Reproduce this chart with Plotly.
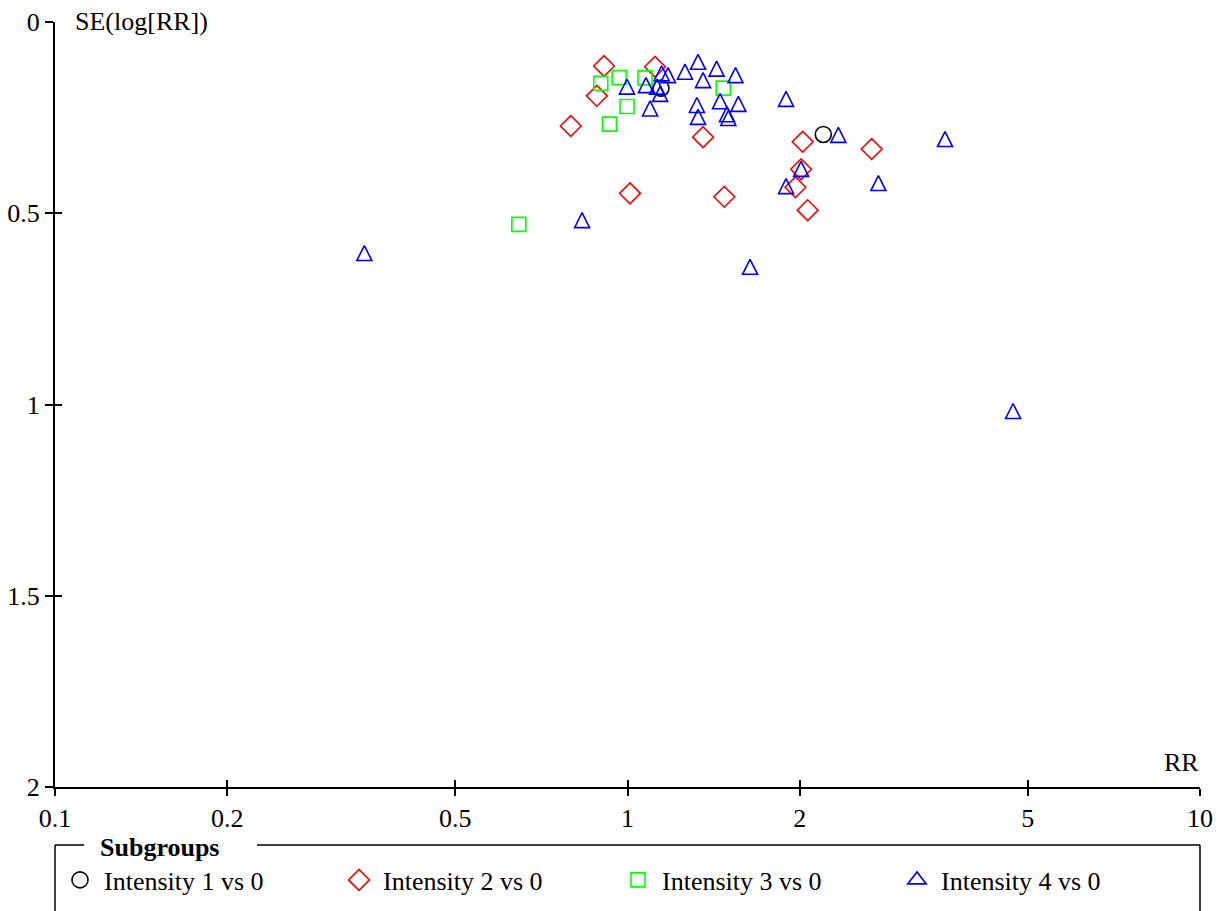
import plotly.graph_objects as go

# Funnel plot of risk ratios by intensity subgroup
x_ticks = [0.1, 0.2, 0.5, 1, 2, 5, 10]
x_tick_text = ["0.1", "0.2", "0.5", "1", "2", "5", "10"]
y_ticks = [0, 0.5, 1, 1.5, 2]
y_tick_text = ["0", "0.5", "1", "1.5", "2"]

i1_rr = [1.144, 2.198]
i1_se = [0.173, 0.294]

i2_rr = [0.910, 1.117, 0.884, 0.796, 1.355, 2.023, 2.670, 2.010, 1.965, 1.010, 1.476, 2.064]
i2_se = [0.115, 0.117, 0.193, 0.272, 0.301, 0.313, 0.332, 0.385, 0.432, 0.448, 0.457, 0.492]

i3_rr = [0.898, 0.967, 1.073, 0.998, 0.930, 1.470, 0.646]
i3_se = [0.160, 0.145, 0.146, 0.221, 0.267, 0.173, 0.529]

i4_rr = [0.347, 0.833, 0.998, 1.077, 1.095, 1.126, 1.140, 1.147, 1.177, 1.260,
         1.328, 1.355, 1.431, 1.544, 1.322, 1.451, 1.562, 1.328, 1.492, 1.500,
         1.892, 2.335, 2.010, 1.892, 2.743, 1.637, 3.586, 4.715]
i4_se = [0.604, 0.518, 0.169, 0.165, 0.226, 0.169, 0.188, 0.134, 0.139, 0.130,
         0.104, 0.152, 0.122, 0.139, 0.217, 0.207, 0.214, 0.248, 0.241, 0.251,
         0.201, 0.295, 0.384, 0.429, 0.421, 0.640, 0.306, 1.017]

FONT = "Liberation Serif"
W, H = 1219, 911
ML, MR, MT, MB = 55, 19, 22, 124
PW, PH = W - ML - MR, H - MT - MB


def px_x(px):
    return (px - ML) / PW


def px_y(py):
    return (H - MB - py) / PH


fig = go.Figure()

fig.add_trace(go.Scatter(
    x=i1_rr, y=i1_se, mode="markers", name="Intensity 1 vs 0",
    marker=dict(symbol="circle-open", size=16, color="black", line=dict(width=1.6, color="black")),
))
fig.add_trace(go.Scatter(
    x=i2_rr, y=i2_se, mode="markers", name="Intensity 2 vs 0",
    marker=dict(symbol="diamond-open", size=16, color="#ff0000", line=dict(width=1.6, color="#ff0000")),
))
fig.add_trace(go.Scatter(
    x=i3_rr, y=i3_se, mode="markers", name="Intensity 3 vs 0",
    marker=dict(symbol="square-open", size=14, color="#00ff00", line=dict(width=1.6, color="#00ff00")),
))
# upright open triangle centred on the point: a flipped arrow shifted up by its half height
fig.add_trace(go.Scatter(
    x=i4_rr, y=i4_se, mode="markers", name="Intensity 4 vs 0", showlegend=False,
    marker=dict(symbol="arrow-down-open", size=15, angle=180, standoff=7.5,
                color="#0000ff", line=dict(width=1.6, color="#0000ff")),
))
fig.add_trace(go.Scatter(
    x=[None], y=[None], mode="markers", name="Intensity 4 vs 0",
    marker=dict(symbol="triangle-up-open", size=16, color="#0000ff", line=dict(width=1.6, color="#0000ff")),
))
# companion axes carry the inward half of the crossing tick marks
fig.add_trace(go.Scatter(x=[None], y=[None], xaxis="x2", yaxis="y2", showlegend=False, hoverinfo="skip"))

axis_font = dict(family=FONT, size=26, color="black")
fig.update_layout(
    width=W, height=H, autosize=False,
    margin=dict(l=ML, r=MR, t=MT, b=MB, pad=0, autoexpand=False),
    paper_bgcolor="white", plot_bgcolor="white",
    font=dict(family=FONT, size=26, color="black"),
    xaxis=dict(type="log", range=[-1, 1], tickvals=x_ticks, ticktext=x_tick_text,
               showline=True, linecolor="black", linewidth=2, ticks="outside", ticklen=7,
               tickwidth=2, tickcolor="black", showgrid=False, zeroline=False, tickfont=axis_font,
               automargin=False),
    yaxis=dict(range=[2, 0], tickvals=y_ticks, ticktext=y_tick_text,
               showline=True, linecolor="black", linewidth=2, ticks="outside", ticklen=8,
               tickwidth=2, tickcolor="black", showgrid=False, zeroline=False, tickfont=axis_font,
               automargin=False),
    xaxis2=dict(type="log", range=[-1, 1], tickvals=x_ticks, overlaying="x", anchor="y", side="bottom",
                ticks="inside", ticklen=7, tickwidth=2, tickcolor="black", showticklabels=False,
                showline=False, showgrid=False, zeroline=False),
    yaxis2=dict(range=[2, 0], tickvals=y_ticks, overlaying="y", anchor="x", side="left",
                ticks="inside", ticklen=7, tickwidth=2, tickcolor="black", showticklabels=False,
                showline=False, showgrid=False, zeroline=False),
    legend=dict(orientation="h", x=px_x(56), xanchor="left", y=px_y(880), yanchor="middle",
                entrywidth=226, itemwidth=38, bgcolor="rgba(0,0,0,0)", borderwidth=0,
                font=dict(family=FONT, size=26, color="black"), itemsizing="trace"),
    showlegend=True,
)

fig.add_annotation(text="SE(log[RR])", xref="paper", yref="paper", x=px_x(73), y=px_y(21),
                   xanchor="left", yanchor="middle", showarrow=False, font=axis_font)
fig.add_annotation(text="RR", xref="paper", yref="paper", x=px_x(1201), y=px_y(762),
                   xanchor="right", yanchor="middle", showarrow=False, font=axis_font)
fig.add_annotation(text="<b>Subgroups</b>", xref="paper", yref="paper", x=px_x(98), y=px_y(847),
                   xanchor="left", yanchor="middle", showarrow=False, font=axis_font)

# legend frame, open at the top where the title sits
frame = dict(type="line", xref="paper", yref="paper", line=dict(color="black", width=1.5))
fig.add_shape(**frame, x0=px_x(55), y0=px_y(845), x1=px_x(84), y1=px_y(845))
fig.add_shape(**frame, x0=px_x(257), y0=px_y(845), x1=px_x(1200), y1=px_y(845))
fig.add_shape(**frame, x0=px_x(55), y0=px_y(845), x1=px_x(55), y1=px_y(930))
fig.add_shape(**frame, x0=px_x(1200), y0=px_y(845), x1=px_x(1200), y1=px_y(930))

fig.write_html("out.html")
